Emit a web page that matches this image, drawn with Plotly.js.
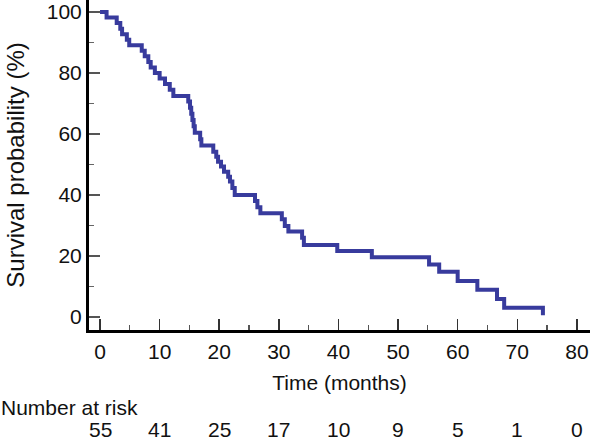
<!DOCTYPE html>
<html>
<head>
<meta charset="utf-8">
<script src="https://cdn.plot.ly/plotly-3.0.1.min.js"></script>
<style>
  html, body { margin: 0; padding: 0; background: #fff; }
  #chart { width: 590px; height: 440px; }
</style>
</head>
<body>
<div id="chart"></div>
<script>
// Kaplan-Meier step points (time in months, survival %)
const times = [0, 1.1, 2.8, 3.4, 3.7, 4.5, 4.9, 7.0, 7.5, 8.1, 8.5, 9.2, 10.0, 10.9, 11.7, 12.3,
  14.8, 15.1, 15.3, 15.5, 15.7, 15.9, 16.8, 17.0, 19.0, 19.5, 19.8, 20.3, 20.8, 21.5, 21.8, 22.2, 22.6,
  26.0, 26.4, 26.9, 30.5, 31.0, 31.6, 33.9, 34.2, 39.8, 45.6, 55.2, 56.9, 60.0, 63.3, 66.6, 67.8, 74.3];
const survival = [100, 98.2, 96.4, 94.5, 92.7, 90.9, 89.1, 87.3, 85.5, 83.6, 81.8, 80.0, 78.2, 76.4, 74.5, 72.4,
  70.6, 68.6, 66.6, 64.6, 62.5, 60.4, 58.3, 56.2, 54.2, 52.5, 50.9, 49.3, 47.6, 46.0, 44.4, 42.3, 40.0,
  38.0, 36.0, 34.0, 32.0, 29.8, 28.0, 26.0, 23.6, 21.6, 19.6, 17.2, 14.8, 11.8, 8.9, 5.9, 3.0, 0.6];

const tickVals = [0, 10, 20, 30, 40, 50, 60, 70, 80];
const yTickVals = [0, 20, 40, 60, 80, 100];
const atRisk = [55, 41, 25, 17, 10, 9, 5, 1, 0];

const xTitle = "Time (months)";
const yTitle = "Survival probability (%)";
const riskLabel = "Number at risk";

const font = "Liberation Sans, Arial, sans-serif";

const trace = {
  x: times, y: survival, type: "scatter", mode: "lines",
  line: { shape: "hv", color: "#383b9d", width: 4 },
  hoverinfo: "skip"
};

const annotations = tickVals.map((t, i) => ({
  x: t, xref: "x", y: -0.303, yref: "paper",
  text: String(atRisk[i]), showarrow: false,
  xanchor: "center", yanchor: "middle",
  font: { family: font, size: 21, color: "#111" }
}));
annotations.push({
  x: 0, xref: "paper", y: -0.234, yref: "paper",
  xshift: -90,
  text: riskLabel, showarrow: false, xanchor: "left", yanchor: "middle",
  font: { family: font, size: 21, color: "#111" }
});

const layout = {
  width: 590, height: 440,
  margin: { l: 89, r: 0, t: 0, b: 110, pad: 0 },
  paper_bgcolor: "#fff", plot_bgcolor: "#fff",
  showlegend: false,
  font: { family: font, size: 21, color: "#111" },
  xaxis: {
    range: [-1.85, 82.2],
    tickvals: tickVals,
    ticks: "inside", ticklen: 11, tickwidth: 1.5, tickcolor: "#333",
    minor: { dtick: 5, tick0: 0, ticks: "inside", ticklen: 5, tickwidth: 1.2, tickcolor: "#555" },
    showline: true, linecolor: "#000", linewidth: 3,
    showgrid: false, zeroline: false,
    tickfont: { family: font, size: 21, color: "#111" },
    ticklabelstandoff: 1,
    title: { text: xTitle, font: { family: font, size: 21, color: "#111" }, standoff: 14 }
  },
  yaxis: {
    range: [-4.26, 103.9],
    tickvals: yTickVals,
    ticks: "inside", ticklen: 11, tickwidth: 1.5, tickcolor: "#555",
    minor: { dtick: 10, tick0: 0, ticks: "inside", ticklen: 5, tickwidth: 1.2, tickcolor: "#666" },
    showline: true, linecolor: "#000", linewidth: 3,
    showgrid: false, zeroline: false,
    tickfont: { family: font, size: 21, color: "#111" },
    ticklabelstandoff: 0,
    title: { text: yTitle, font: { family: font, size: 24, color: "#111" }, standoff: 16 }
  },
  annotations: annotations
};

Plotly.newPlot("chart", [trace], layout, { displayModeBar: false, staticPlot: true });
</script>
</body>
</html>
